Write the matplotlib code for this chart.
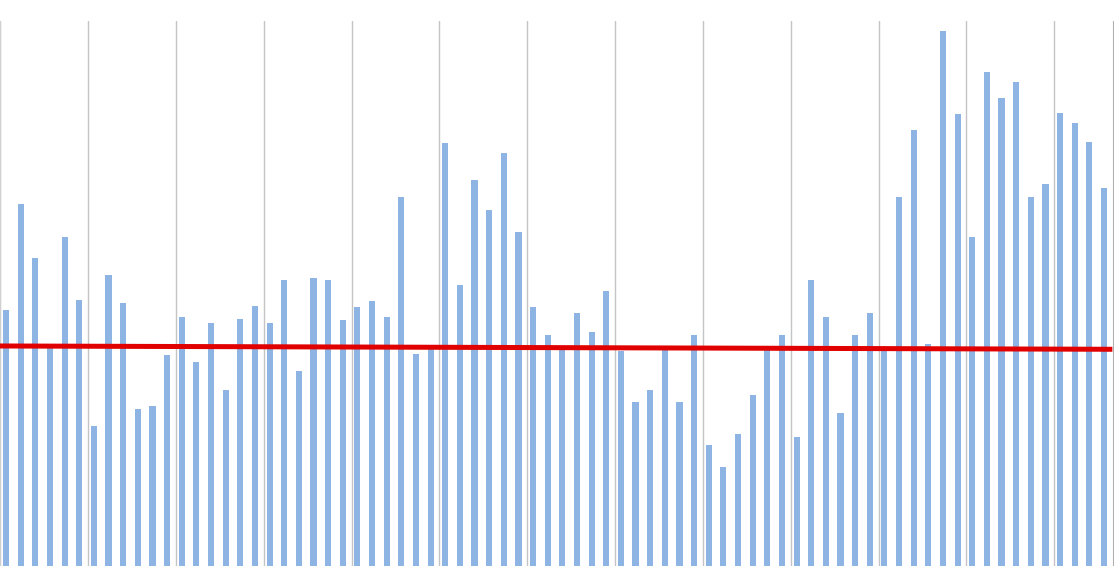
import numpy as np
import matplotlib
matplotlib.use("Agg")
import matplotlib.pyplot as plt

# bar heights (76 periods)
values = [
    256, 362, 308, 219, 329, 266, 140, 291, 263, 157,
    160, 211, 249, 204, 243, 176, 247, 260, 243, 286,
    195, 288, 286, 246, 259, 265, 249, 369, 212, 217,
    423, 281, 386, 356, 413, 334, 259, 231, 219, 253,
    234, 275, 215, 164, 176, 216, 164, 231, 121, 99,
    132, 171, 216, 231, 129, 286, 249, 153, 231, 253,
    216, 369, 436, 222, 535, 452, 329, 494, 468, 484,
    369, 382, 453, 443, 424, 378,
]

# reference line (start / end level)
ref_x = [0, 75.8]
ref_y = [220, 216.7]

n = len(values)
x = np.arange(n) + 0.4

fig = plt.figure(figsize=(11.14, 5.66), dpi=100)
ax = fig.add_axes([0.0002, 0.0, 0.9987, 0.963])

ax.bar(x, values, width=0.42, color="#8eb4e3", zorder=2)
ax.plot(ref_x, ref_y, color="#e00000", linewidth=3.6, zorder=3)

ax.set_xlim(0, n)
ax.set_ylim(0, 545)

# vertical gridlines every 6 periods
ax.set_xticks(np.arange(0, n, 6))
ax.grid(axis="x", color="#c4c4c4", linewidth=1.0, zorder=1)
ax.set_yticks([])
ax.tick_params(axis="x", length=0, labelbottom=False)

for side in ["top", "bottom"]:
    ax.spines[side].set_visible(False)
ax.spines["left"].set_color("#d0d0d0")
ax.spines["right"].set_color("#b0b0b0")

fig.savefig("out.png", dpi=100)
